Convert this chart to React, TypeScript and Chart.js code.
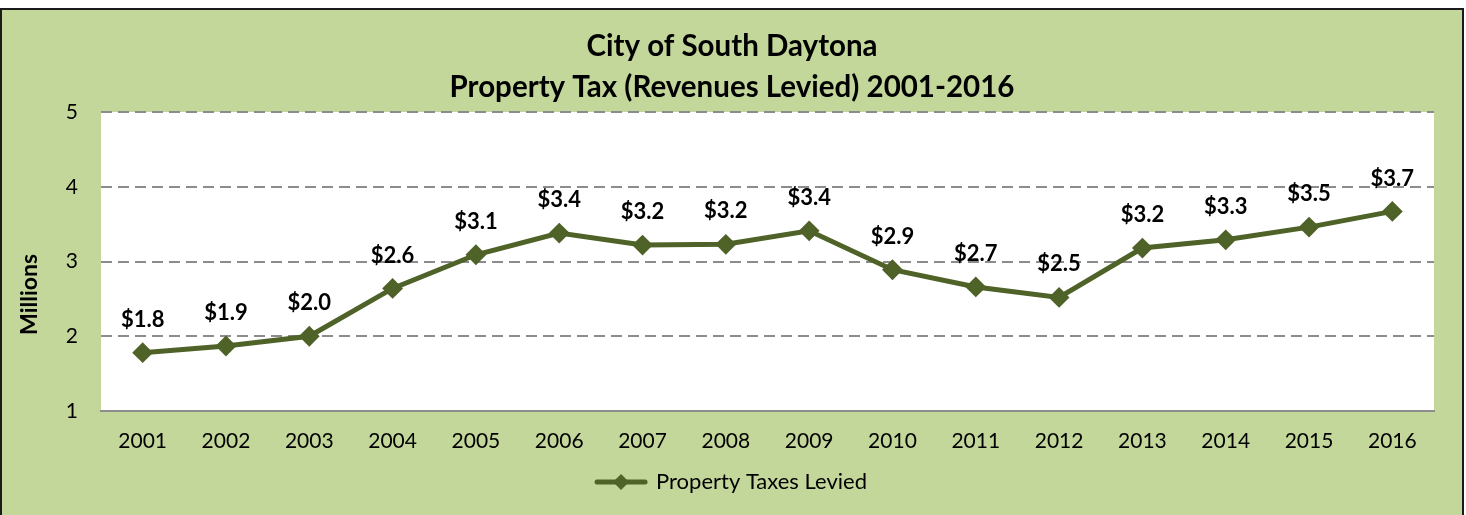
import React, { useEffect, useRef } from 'react';
import { Chart, registerables } from 'chart.js';

Chart.register(...registerables);

const years = ['2001', '2002', '2003', '2004', '2005', '2006', '2007', '2008', '2009', '2010', '2011', '2012', '2013', '2014', '2015', '2016'];
const propertyTaxes = [1.78, 1.87, 2.0, 2.64, 3.09, 3.38, 3.22, 3.23, 3.41, 2.89, 2.66, 2.52, 3.18, 3.29, 3.46, 3.67];
const seriesName = 'Property Taxes Levied';
const titleLines = ['City of South Daytona', 'Property Tax (Revenues Levied) 2001-2016'];
const yAxisTitle = 'Millions';
const yMin = 1;
const yMax = 5;
const yStep = 1;

const FONT = 'Lato';
const LINE = '#4F6228';
const GRID = '#8c8c8c';
const BG = '#C4D79B';

function makeLegendSymbol(): HTMLCanvasElement {
  const c = document.createElement('canvas');
  c.width = 54;
  c.height = 20;
  const g = c.getContext('2d')!;
  g.strokeStyle = LINE;
  g.lineWidth = 5;
  g.lineCap = 'round';
  g.beginPath();
  g.moveTo(3, 10);
  g.lineTo(51, 10);
  g.stroke();
  g.fillStyle = LINE;
  g.beginPath();
  g.moveTo(27, 2);
  g.lineTo(35, 10);
  g.lineTo(27, 18);
  g.lineTo(19, 10);
  g.closePath();
  g.fill();
  return c;
}

const plotBackgroundPlugin = {
  id: 'plotBackground',
  beforeDraw(chart: any) {
    const { left, top, width, height } = chart.chartArea;
    const ctx = chart.ctx;
    ctx.save();
    ctx.fillStyle = '#ffffff';
    ctx.fillRect(left, top, width, height);
    ctx.restore();
  },
};

const valueLabelPlugin = {
  id: 'valueLabels',
  afterDatasetsDraw(chart: any) {
    const ctx = chart.ctx;
    const meta = chart.getDatasetMeta(0);
    ctx.save();
    ctx.font = `bold 22px ${FONT}`;
    ctx.fillStyle = '#000';
    ctx.textAlign = 'center';
    ctx.textBaseline = 'middle';
    meta.data.forEach((pt: any, i: number) => {
      ctx.fillText('$' + propertyTaxes[i].toFixed(1), pt.x, pt.y - 33);
    });
    const { top, bottom } = chart.chartArea;
    ctx.translate(28, top + (bottom - top) * 0.61);
    ctx.rotate(-Math.PI / 2);
    ctx.font = `bold 23px ${FONT}`;
    ctx.fillText(yAxisTitle, 0, 0);
    ctx.restore();
  },
};

export default function App() {
  const ref = useRef<HTMLCanvasElement>(null);

  useEffect(() => {
    if (!ref.current) return;
    const symbol = makeLegendSymbol();
    const chart = new Chart(ref.current, {
      type: 'line',
      data: {
        labels: years,
        datasets: [
          {
            label: seriesName,
            data: propertyTaxes,
            borderColor: LINE,
            backgroundColor: LINE,
            borderWidth: 5,
            pointStyle: 'rectRot',
            pointRadius: 9,
            pointBorderWidth: 2,
            pointBackgroundColor: LINE,
            pointBorderColor: LINE,
            tension: 0,
            yAxisID: 'y',
          },
        ],
      },
      options: {
        responsive: false,
        animation: false,
        events: [],
        layout: { padding: { top: 0, left: 0, right: 0, bottom: 12 } },
        scales: {
          x: {
            offset: true,
            grid: { display: false, drawTicks: false },
            border: { display: true, color: GRID, width: 2 },
            ticks: { color: '#000', font: { family: FONT, size: 21 }, padding: 17.5, maxRotation: 0 },
            afterFit: (s: any) => {
              s.height = 45;
            },
          },
          y: {
            min: yMin,
            max: yMax,
            ticks: { stepSize: yStep, color: '#000', font: { family: FONT, size: 21 }, padding: 23 },
            grid: {
              drawTicks: false,
              lineWidth: 2,
              color: (c: any) => (c.tick && c.tick.value === yMin ? 'rgba(0,0,0,0)' : GRID),
            },
            border: { display: false, dash: [11, 6] },
            afterFit: (s: any) => {
              s.width = 99;
            },
          },
          yRight: {
            position: 'right',
            display: true,
            grid: { display: false, drawTicks: false },
            ticks: { display: false },
            border: { display: false },
            afterFit: (s: any) => {
              s.width = 28;
            },
          },
        },
        plugins: {
          title: {
            display: true,
            text: titleLines,
            color: '#000',
            font: { family: FONT, size: 29.5, weight: 'bold', lineHeight: 41 / 29.5 },
            padding: { top: 16, bottom: 4 },
          },
          legend: {
            display: true,
            position: 'bottom',
            labels: {
              color: '#000',
              font: { family: FONT, size: 22 },
              padding: 15,
              usePointStyle: true,
              pointStyleWidth: 48,
              generateLabels: () => [
                {
                  text: seriesName,
                  pointStyle: symbol,
                  fillStyle: LINE,
                  strokeStyle: LINE,
                  lineWidth: 0,
                  hidden: false,
                  datasetIndex: 0,
                  fontColor: '#000',
                },
              ],
            },
          },
          tooltip: { enabled: false },
        },
      },
      plugins: [plotBackgroundPlugin, valueLabelPlugin],
    } as any);
    return () => chart.destroy();
  }, []);

  return (
    <div
      style={{
        position: 'fixed',
        left: 0,
        top: 8,
        width: 1464,
        height: 520,
        boxSizing: 'border-box',
        border: '2px solid #1a1a1a',
        background: BG,
      }}
    >
      <canvas ref={ref} width={1460} height={505} style={{ display: 'block', width: 1460, height: 505 }} />
    </div>
  );
}
